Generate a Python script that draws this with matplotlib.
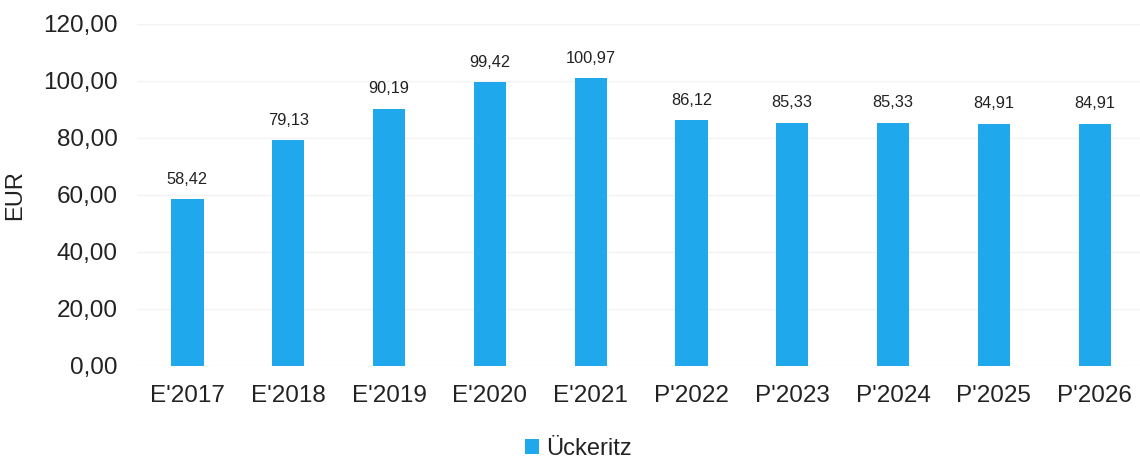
#!/usr/bin/env python3

import matplotlib
matplotlib.use('Agg')
import matplotlib.pyplot as plt
from matplotlib import ticker

categories = ["E'2017", "E'2018", "E'2019", "E'2020", "E'2021",
              "P'2022", "P'2023", "P'2024", "P'2025", "P'2026"]
values = [58.42, 79.13, 90.19, 99.42, 100.97,
          86.12, 85.33, 85.33, 84.91, 84.91]
series_name = 'Ückeritz'
y_ticks = [0, 20, 40, 60, 80, 100, 120]

bar_color = '#1FA8EC'


def de_fmt(v, _pos=None):
    return '{:.2f}'.format(v).replace('.', ',')


def main():
    plt.rcParams['font.family'] = ['Liberation Sans', 'DejaVu Sans']

    fig = plt.figure(figsize=(11.4, 4.59), dpi=100)
    ax = fig.add_axes([0.1202, 0.2033, 0.8798, 0.7447])

    x = range(len(categories))
    bars = ax.bar(x, values, width=0.32, color=bar_color, label=series_name,
                  zorder=2)

    for rect, v in zip(bars, values):
        ax.annotate(de_fmt(v), (rect.get_x() + rect.get_width() / 2, v),
                    xytext=(0, 9), textcoords='offset points',
                    ha='center', va='bottom', fontsize=11.8, color='#222222')

    ax.set_xlim(-0.5, len(categories) - 0.55)
    ax.set_ylim(0, 120)
    ax.set_yticks(y_ticks)
    ax.yaxis.set_major_formatter(ticker.FuncFormatter(de_fmt))
    ax.set_xticks(list(x))
    ax.set_xticklabels(categories)

    ax.tick_params(axis='both', length=0, labelsize=17.5, colors='#222222')
    ax.tick_params(axis='y', pad=14)
    ax.tick_params(axis='x', pad=14)
    ax.grid(axis='y', color='#f3f3f3', linewidth=1, zorder=0)
    for sp in ax.spines.values():
        sp.set_visible(False)

    ax.set_ylabel('EUR', fontsize=17, color='#222222', labelpad=12)

    fig.legend(loc='center', bbox_to_anchor=(0.507, 0.022), frameon=False,
               fontsize=17, handlelength=0.6, handleheight=0.6,
               handletextpad=0.3, labelcolor='#222222')

    fig.savefig('out.png', dpi=100)


if __name__ == '__main__':
    main()
